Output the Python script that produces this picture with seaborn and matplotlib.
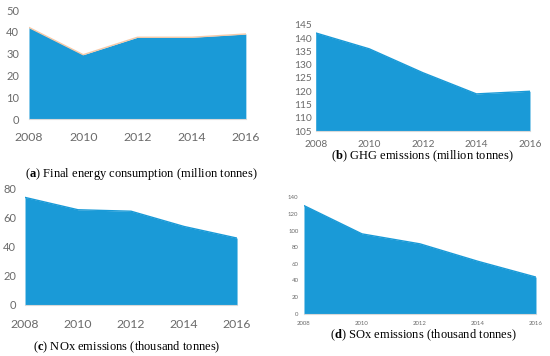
import matplotlib
matplotlib.use("Agg")
import matplotlib.pyplot as plt
import seaborn as sns
import pandas as pd

years = [2008, 2010, 2012, 2014, 2016]
energy = [42, 29.5, 37.5, 37.5, 39]
ghg = [142, 136, 127, 119, 120]
nox = [74, 65.5, 64.5, 54, 46]
sox = [130, 96, 84, 63, 44]

captions = [
    (r"($\mathbf{a}$) Final energy consumption (million tonnes)", 0.258, 0.511),
    (r"($\mathbf{b}$) GHG emissions (million tonnes)", 0.767, 0.561),
    (r"($\mathbf{c}$) NOx emissions (thousand tonnes)", 0.231, 0.025),
    (r"($\mathbf{d}$) SOx emissions (thousand tonnes)", 0.769, 0.059),
]

BLUE = "#1a9ad7"
GREY = "#6a6a6a"

sns.set_theme(style="white")
plt.rcParams["font.family"] = ["Lato", "DejaVu Sans"]
plt.rcParams["mathtext.fontset"] = "custom"
plt.rcParams["mathtext.rm"] = "Liberation Serif"
plt.rcParams["mathtext.bf"] = "Liberation Serif:bold"

fig = plt.figure(figsize=(5.5, 3.56), dpi=100)

panels = [
    # values, rect, ylim, yticks, xsize, ysize, xpad, ypad, edge
    (energy, [0.0527, 0.6657, 0.3943, 0.3062], (0, 50), range(0, 51, 10), 8.8, 8, 6, 7, "#f5c9a8"),
    (ghg, [0.574, 0.632, 0.3896, 0.2978], (105, 145), range(105, 146, 5), 7.3, 7.3, 3.5, 3, BLUE),
    (nox, [0.0455, 0.1433, 0.3855, 0.3267], (0, 80), range(0, 81, 20), 8.8, 8, 7, 6.5, BLUE),
    (sox, [0.5527, 0.1188, 0.4218, 0.327], (0, 140), range(0, 141, 20), 4.3, 4.3, 2.5, 4, BLUE),
]

for values, rect, ylim, yticks, xsize, ysize, xpad, ypad, edge in panels:
    ax = fig.add_axes(rect)
    df = pd.DataFrame({"year": years, "value": values})
    ax.fill_between(df["year"], df["value"], ylim[0], color=BLUE, lw=0)
    sns.lineplot(data=df, x="year", y="value", ax=ax, color=edge, lw=1.0)
    ax.set_xlim(2008, 2016)
    ax.set_ylim(*ylim)
    ax.set_xticks(years)
    ax.set_yticks(list(yticks))
    ax.set_xlabel("")
    ax.set_ylabel("")
    for s in ["top", "right", "left"]:
        ax.spines[s].set_visible(False)
    ax.spines["bottom"].set_color("#d9d9d9")
    ax.spines["bottom"].set_linewidth(0.8)
    ax.tick_params(axis="x", labelsize=xsize, colors=GREY, length=3, width=0.6, color="#d9d9d9", pad=xpad)
    ax.tick_params(axis="y", labelsize=ysize, colors=GREY, length=0, pad=ypad)
    ax.grid(False)

for text, x, y in captions:
    fig.text(x, y, text, ha="center", va="center", fontsize=9,
             family="Liberation Serif", color="black")

fig.savefig("out.png", dpi=100)
